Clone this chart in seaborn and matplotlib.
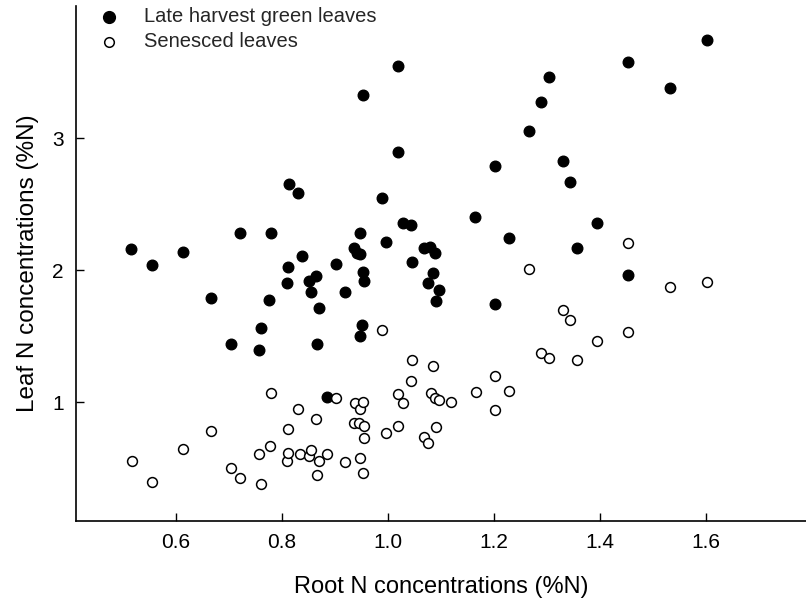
import matplotlib
matplotlib.use("Agg")
import matplotlib.pyplot as plt
import seaborn as sns
import pandas as pd

# Late harvest green leaves (filled)
root_green = [0.515, 0.555, 0.613, 0.665, 0.703, 0.721, 0.757, 0.760, 0.776, 0.779,
              0.810, 0.812, 0.813, 0.831, 0.837, 0.850, 0.855, 0.864, 0.865, 0.870,
              0.885, 0.902, 0.919, 0.936, 0.941, 0.948, 0.948, 0.947, 0.950, 0.952,
              0.953, 0.955, 0.988, 0.997, 1.018, 1.018, 1.028, 1.043, 1.045, 1.067,
              1.075, 1.079, 1.084, 1.089, 1.091, 1.096, 1.165, 1.202, 1.202, 1.228,
              1.267, 1.288, 1.303, 1.331, 1.344, 1.357, 1.395, 1.453, 1.453, 1.533,
              1.603]
leaf_green = [2.157, 2.035, 2.134, 1.790, 1.440, 2.278, 1.394, 1.560, 1.773, 2.278,
              1.899, 2.025, 2.649, 2.581, 2.106, 1.919, 1.831, 1.957, 1.444, 1.714,
              1.038, 2.043, 1.831, 2.164, 2.131, 2.121, 1.503, 2.278, 1.586, 3.323,
              1.987, 1.919, 2.548, 2.210, 3.545, 2.896, 2.356, 2.341, 2.058, 2.164,
              1.904, 2.172, 1.980, 2.126, 1.768, 1.848, 2.404, 2.785, 1.747, 2.240,
              3.051, 3.273, 3.462, 2.823, 2.664, 2.169, 2.359, 3.576, 1.965, 3.379,
              3.742]

# Senesced leaves (open)
root_sen = [0.516, 0.555, 0.613, 0.665, 0.703, 0.721, 0.757, 0.760, 0.777, 0.780,
            0.809, 0.812, 0.812, 0.831, 0.833, 0.850, 0.855, 0.864, 0.865, 0.870,
            0.885, 0.902, 0.919, 0.935, 0.938, 0.946, 0.947, 0.947, 0.952, 0.952,
            0.955, 0.955, 0.989, 0.996, 1.018, 1.019, 1.029, 1.043, 1.045, 1.067,
            1.076, 1.081, 1.084, 1.089, 1.091, 1.096, 1.119, 1.166, 1.202, 1.202,
            1.228, 1.267, 1.288, 1.303, 1.331, 1.344, 1.357, 1.395, 1.453, 1.453,
            1.533, 1.603]
leaf_sen = [0.556, 0.399, 0.646, 0.780, 0.505, 0.424, 0.609, 0.379, 0.669, 1.068,
            0.556, 0.616, 0.795, 0.945, 0.604, 0.591, 0.636, 0.871, 0.445, 0.551,
            0.606, 1.030, 0.548, 0.839, 0.990, 0.839, 0.578, 0.947, 1.002, 0.467,
            0.820, 0.725, 1.548, 0.763, 1.061, 0.818, 0.995, 1.162, 1.323, 0.733,
            0.687, 1.073, 1.275, 1.035, 0.813, 1.020, 0.998, 1.078, 1.199, 0.937,
            1.086, 2.005, 1.376, 1.338, 1.699, 1.619, 1.316, 1.462, 2.207, 1.530,
            1.869, 1.913]

label_green = "Late harvest green leaves"
label_sen = "Senesced leaves"
x_label = "Root N concentrations (%N)"
y_label = "Leaf N concentrations (%N)"
x_ticks = [0.6, 0.8, 1.0, 1.2, 1.4, 1.6]
y_ticks = [1, 2, 3]

sns.set_theme(style="white")
plt.rcParams["font.family"] = ["Liberation Sans", "DejaVu Sans"]

df_g = pd.DataFrame({"root": root_green, "leaf": leaf_green})
df_s = pd.DataFrame({"root": root_sen, "leaf": leaf_sen})

fig = plt.figure(figsize=(8.06, 6.08), dpi=100)
ax = fig.add_axes([76 / 806, 87 / 608, 730 / 806, 515 / 608])

sns.scatterplot(data=df_g, x="root", y="leaf", ax=ax, color="black",
                edgecolor="black", linewidth=1.0, s=58, label=label_green, zorder=2)
sns.scatterplot(data=df_s, x="root", y="leaf", ax=ax, color="white",
                edgecolor="black", linewidth=1.1, s=50, label=label_sen, zorder=3)

ax.set_xlim(0.411, 1.789)
ax.set_ylim(0.1, 4.0)
ax.set_xticks(x_ticks)
ax.set_xticklabels([f"{t:.1f}" for t in x_ticks])
ax.set_yticks(y_ticks)
ax.set_yticklabels([str(t) for t in y_ticks])

for side in ["top", "right"]:
    ax.spines[side].set_visible(False)
for side in ["left", "bottom"]:
    ax.spines[side].set_color("black")
    ax.spines[side].set_linewidth(1.2)

ax.tick_params(axis="both", which="major", direction="in", length=6, width=1.0,
               colors="black", labelsize=15, pad=9, bottom=True, left=True,
               top=False, right=False)
ax.set_xlabel(x_label, fontsize=17, color="black")
ax.set_ylabel(y_label, fontsize=17.5, color="black")
ax.xaxis.set_label_coords(0.5, -0.106)
ax.yaxis.set_label_coords(-0.051, 0.5)

leg = ax.legend(loc="upper left", bbox_to_anchor=(0.006, 1.014), frameon=False,
                fontsize=14.5, handletextpad=0.75, labelspacing=0.33,
                borderaxespad=0.0)
handles = leg.legend_handles
handles[0].set_sizes([72])
handles[1].set_sizes([48])

fig.savefig("out.png", dpi=100)
